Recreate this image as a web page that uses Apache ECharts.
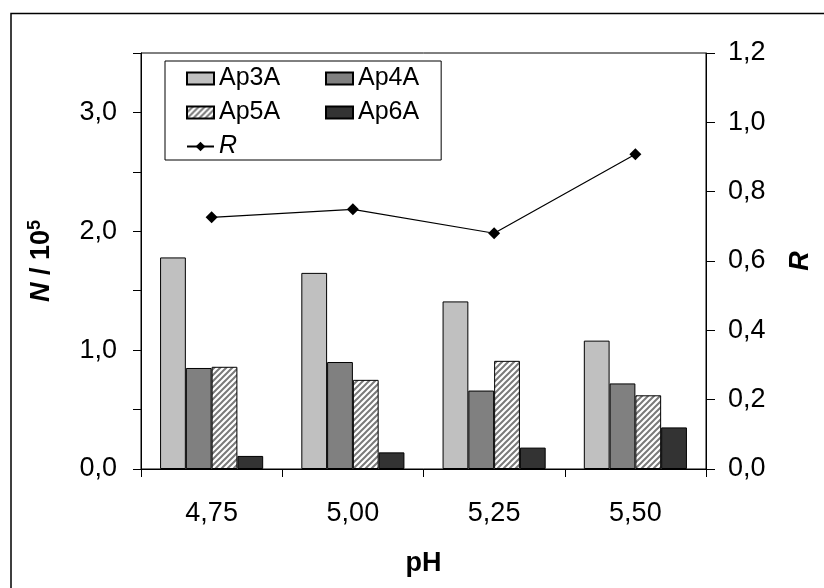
<!DOCTYPE html>
<html>
<head>
<meta charset="utf-8">
<title>N and R vs pH</title>
<script src="https://cdn.jsdelivr.net/npm/echarts@6/dist/echarts.min.js"></script>
<style>
  html, body { margin: 0; padding: 0; background: #fff; }
  #chart { width: 824px; height: 588px; }
</style>
</head>
<body>
<div id="chart"></div>
<script>
// pH values (category axis)
const phLabels = ['4,75', '5,00', '5,25', '5,50'];

// Counts N / 10^5 for each dinucleotide polyphosphate
const ap3a = [1.78, 1.65, 1.41, 1.08];
const ap4a = [0.85, 0.90, 0.66, 0.72];
const ap5a = [0.86, 0.75, 0.91, 0.62];
const ap6a = [0.11, 0.14, 0.18, 0.35];

// Ratio R (right axis)
const rRatio = [0.726, 0.749, 0.680, 0.908];

// Axis ranges
const nMax = 3.5, nStep = 0.5;
const rMax = 1.2, rStep = 0.2;

const FONT = '"Liberation Sans", Arial, Helvetica, sans-serif';

// Diagonal hatch fill used for Ap5A
function hatchPattern() {
  const c = document.createElement('canvas');
  c.width = 6; c.height = 6;
  const g = c.getContext('2d');
  g.fillStyle = '#ffffff';
  g.fillRect(0, 0, 6, 6);
  g.strokeStyle = '#7a7a7a';
  g.lineWidth = 2;
  g.beginPath();
  g.moveTo(0, 6); g.lineTo(6, 0);
  g.moveTo(-1, 1); g.lineTo(1, -1);
  g.moveTo(5, 7); g.lineTo(7, 5);
  g.stroke();
  return { image: c, repeat: 'repeat' };
}

const decimalComma = (v, digits) => v.toFixed(digits).replace('.', ',');

const chart = echarts.init(document.getElementById('chart'), null, { renderer: 'canvas' });

const barBorder = { borderColor: '#000', borderWidth: 1 };

chart.setOption({
  animation: false,
  backgroundColor: '#fff',
  textStyle: { fontFamily: FONT, color: '#000' },
  graphic: [{
    type: 'rect',
    shape: { x: 11, y: 13.5, width: 900, height: 700 },
    style: { fill: 'none', stroke: '#000', lineWidth: 1.5 },
    silent: true
  }],
  grid: {
    left: 141, right: 118, top: 53, bottom: 119,
    show: true, borderColor: '#000', borderWidth: 1, backgroundColor: 'transparent'
  },
  legend: {
    left: 165, top: 61,
    width: 240,
    orient: 'horizontal',
    itemWidth: 27, itemHeight: 12, itemGap: 9,
    padding: [5, 22, 1, 21],
    borderColor: '#000', borderWidth: 1,
    backgroundColor: '#fff',
    textStyle: { fontFamily: FONT, fontSize: 25, color: '#000', lineHeight: 22 },
    data: [
      { name: 'Ap3A', icon: 'rect', textStyle: { width: 97 } },
      { name: 'Ap4A', icon: 'rect' },
      { name: 'Ap5A', icon: 'rect', textStyle: { width: 97 } },
      { name: 'Ap6A', icon: 'rect' },
      { name: 'R', textStyle: { fontStyle: 'italic' } }
    ]
  },
  xAxis: {
    type: 'category',
    data: phLabels,
    name: 'pH',
    nameLocation: 'middle',
    nameGap: 81,
    nameTextStyle: { fontFamily: FONT, fontSize: 27, fontWeight: 'bold', color: '#000' },
    axisLine: { lineStyle: { color: '#000', width: 1 } },
    axisTick: { show: true, length: 8, lineStyle: { color: '#000' } },
    axisLabel: { fontFamily: FONT, fontSize: 27, color: '#000', margin: 31 },
    splitLine: { show: false }
  },
  yAxis: [{
    type: 'value',
    min: 0, max: nMax, interval: nStep,
    position: 'left',
    name: '{i|N} / 10{s|5}',
    nameLocation: 'middle',
    nameRotate: 90,
    nameGap: 83,
    nameTextStyle: {
      fontFamily: FONT, fontSize: 27, fontWeight: 'bold', color: '#000',
      rich: {
        i: { fontFamily: FONT, fontSize: 27, fontWeight: 'bold', fontStyle: 'italic', color: '#000' },
        s: { fontFamily: FONT, fontSize: 18, fontWeight: 'bold', color: '#000', padding: [0, 0, 14, 0] }
      }
    },
    axisLine: { show: true, lineStyle: { color: '#000', width: 1 } },
    axisTick: { show: true, length: 8, lineStyle: { color: '#000' } },
    axisLabel: {
      fontFamily: FONT, fontSize: 27, color: '#000', margin: 24,
      formatter: v => (Math.abs(v - Math.round(v)) < 1e-9 ? decimalComma(v, 1) : '')
    },
    splitLine: { show: false }
  }, {
    type: 'value',
    min: 0, max: rMax, interval: rStep,
    position: 'right',
    name: 'R',
    nameLocation: 'middle',
    nameRotate: 90,
    nameGap: 81,
    nameTextStyle: { fontFamily: FONT, fontSize: 27, fontWeight: 'bold', fontStyle: 'italic', color: '#000' },
    axisLine: { show: true, lineStyle: { color: '#000', width: 1 } },
    axisTick: { show: true, length: 9, lineStyle: { color: '#000' } },
    axisLabel: {
      fontFamily: FONT, fontSize: 27, color: '#000', margin: 22,
      formatter: v => decimalComma(v, 1)
    },
    splitLine: { show: false }
  }],
  series: [
    { name: 'Ap3A', type: 'bar', data: ap3a, barGap: '0%', barCategoryGap: '27%',
      itemStyle: Object.assign({ color: '#c0c0c0' }, barBorder) },
    { name: 'Ap4A', type: 'bar', data: ap4a, barGap: '0%', barCategoryGap: '27%',
      itemStyle: Object.assign({ color: '#808080' }, barBorder) },
    { name: 'Ap5A', type: 'bar', data: ap5a, barGap: '0%', barCategoryGap: '27%',
      itemStyle: Object.assign({ color: hatchPattern() }, barBorder) },
    { name: 'Ap6A', type: 'bar', data: ap6a, barGap: '0%', barCategoryGap: '27%',
      itemStyle: Object.assign({ color: '#333333' }, barBorder) },
    { name: 'R', type: 'line', yAxisIndex: 1, data: rRatio,
      symbol: 'diamond', symbolSize: 12,
      itemStyle: { color: '#000' },
      lineStyle: { color: '#000', width: 1.2 } }
  ]
});
</script>
</body>
</html>
